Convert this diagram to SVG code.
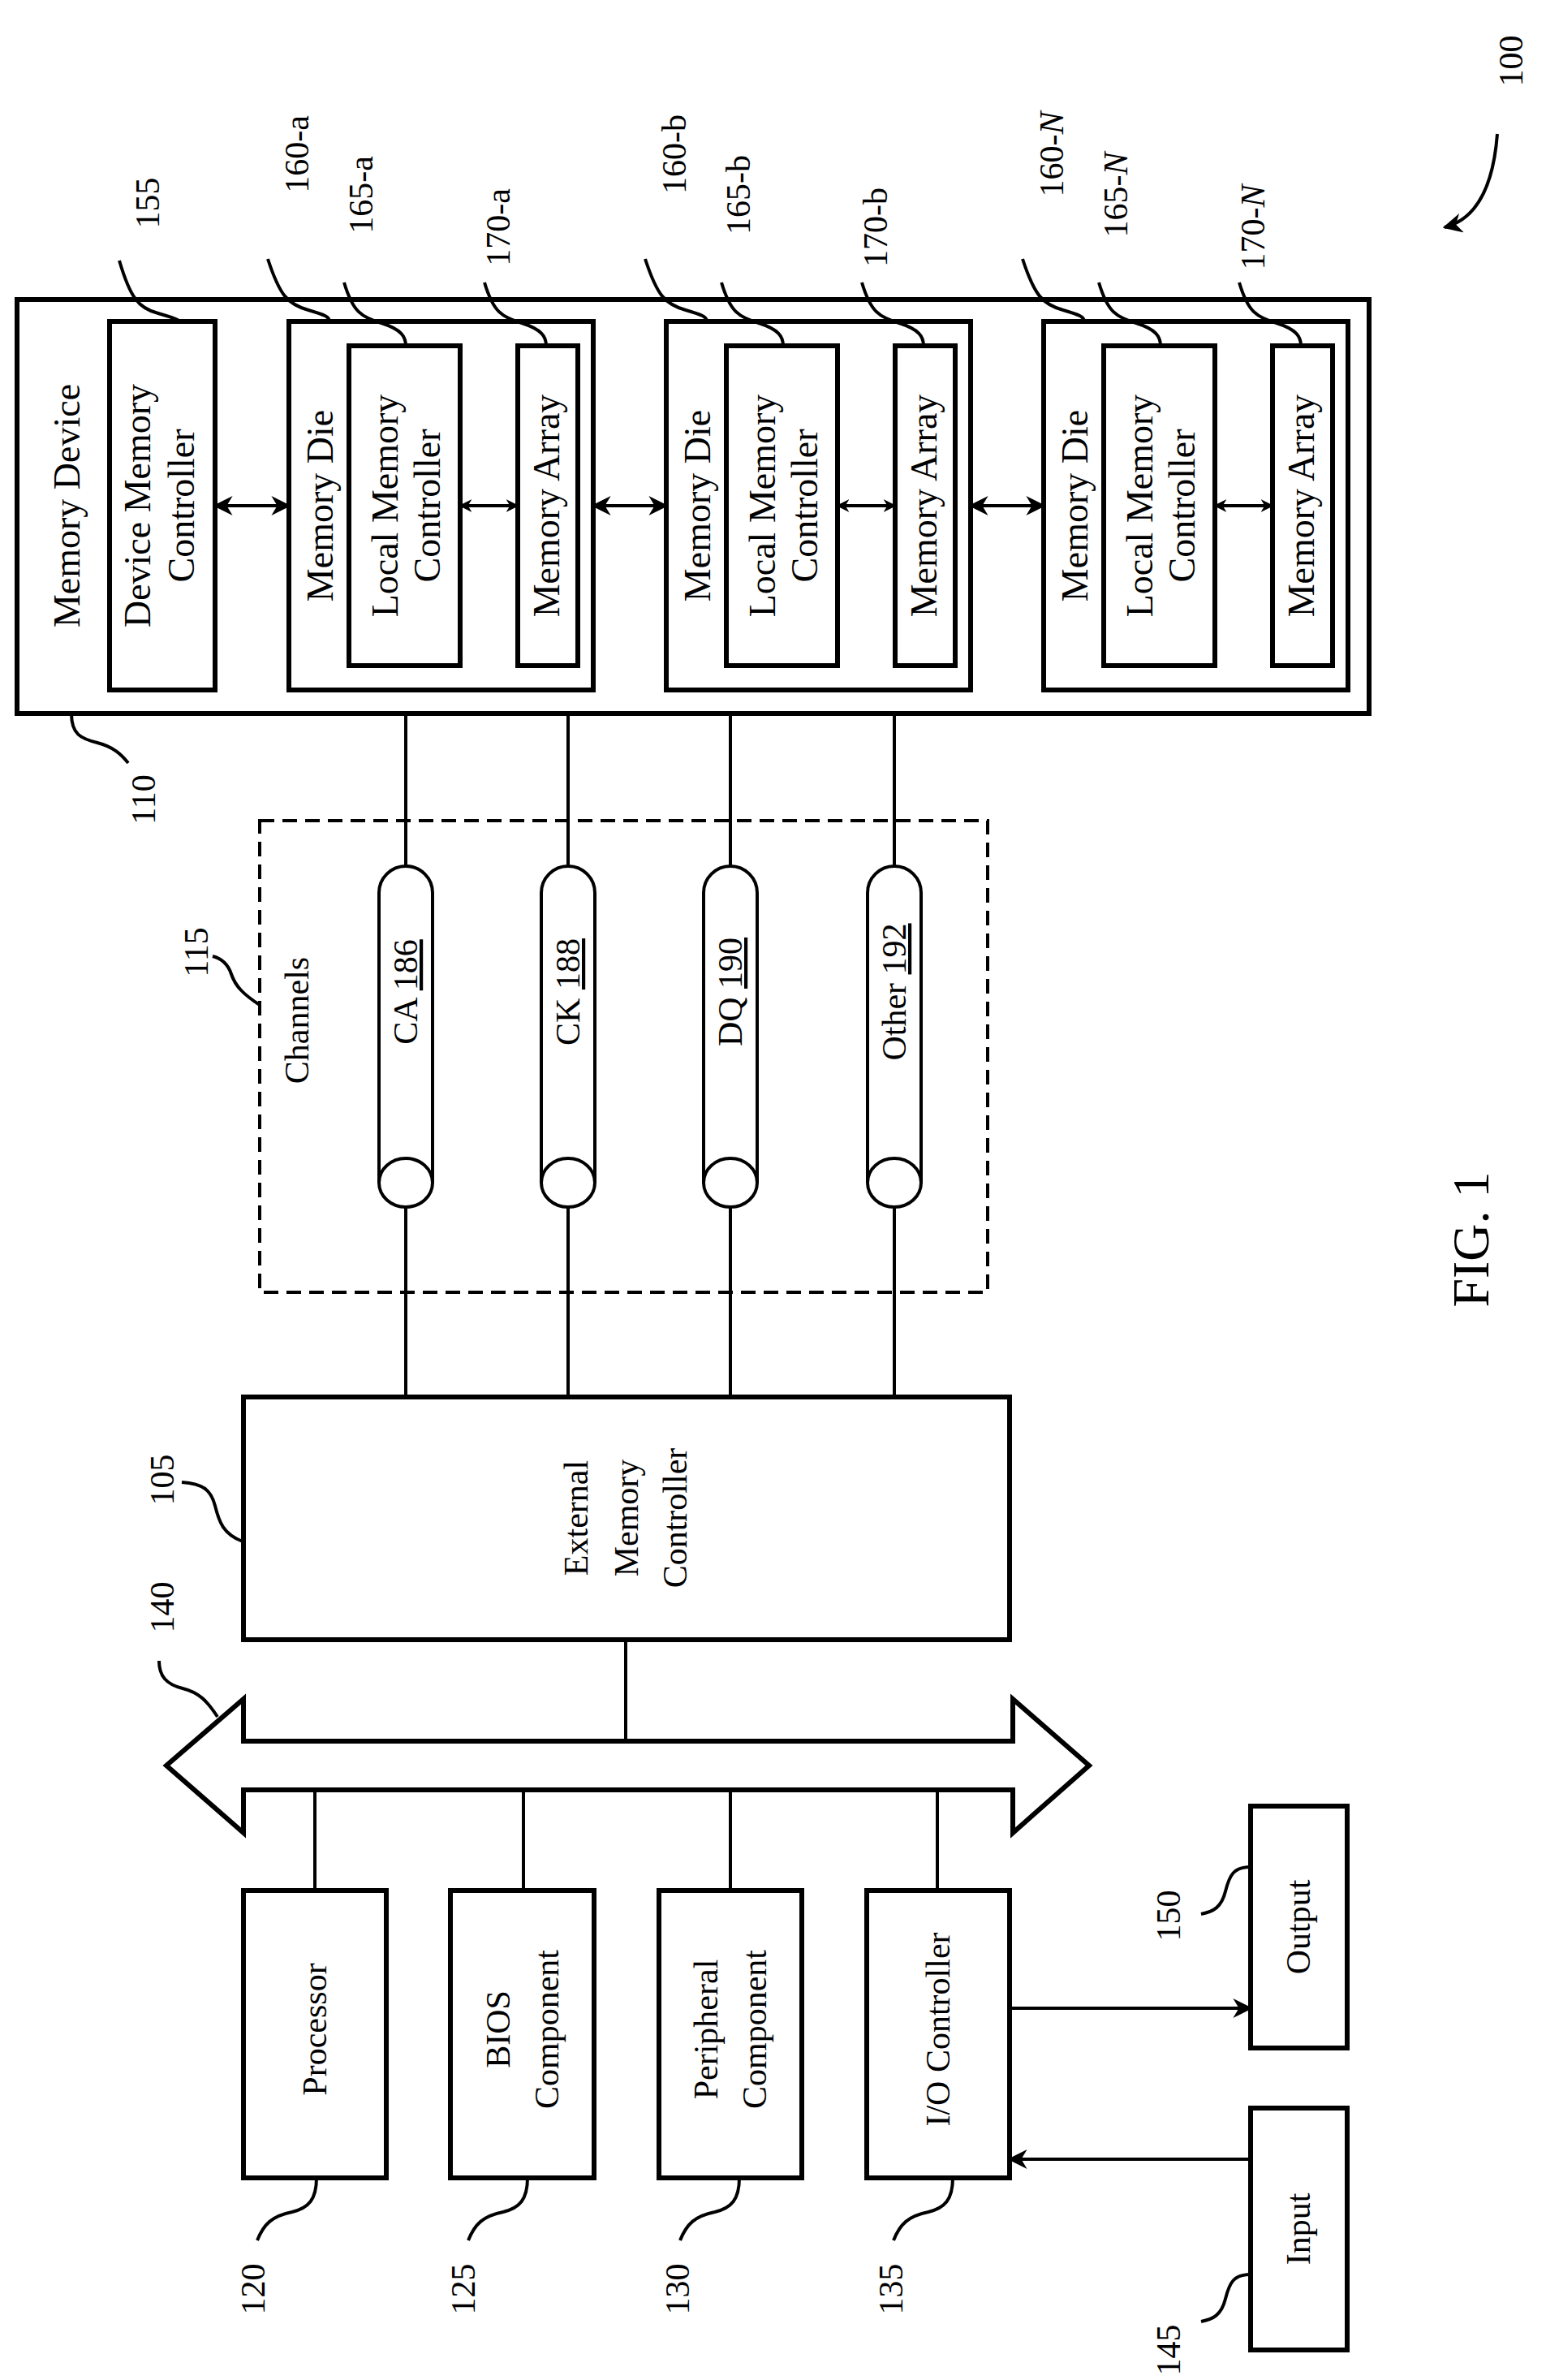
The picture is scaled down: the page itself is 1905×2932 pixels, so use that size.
<svg xmlns="http://www.w3.org/2000/svg" width="1905" height="2932" viewBox="0 0 1905 2932">
<style>
.b{fill:none;stroke:#000;stroke-width:6}
.l{fill:none;stroke:#000;stroke-width:4}
.t{font-family:"Liberation Serif",serif;font-size:46px;text-anchor:middle;fill:#000}
.s{font-family:"Liberation Serif",serif;font-size:42px;text-anchor:middle;fill:#000}
</style>
<defs>
<marker id="a" viewBox="0 0 10 10" refX="9" refY="5" markerWidth="6" markerHeight="6" orient="auto-start-reverse"><path d="M0,0 L10,5 L0,10 L3,5 Z" fill="#000"/></marker>
<marker id="a2" viewBox="0 0 10 10" refX="9" refY="5" markerWidth="4" markerHeight="4" orient="auto-start-reverse"><path d="M0,0 L10,5 L0,10 L3,5 Z" fill="#000"/></marker>
</defs>
<rect width="1905" height="2932" fill="#fff"/>
<g id="n110"><rect class="b" x="21" y="369" width="1666" height="510"/>
<text class="t" transform="translate(82,623) rotate(-90)" y="16">Memory Device</text></g>
<g id="n155"><rect class="b" x="135" y="396" width="130" height="454"/>
<text class="t" transform="translate(197,623) rotate(-90)"><tspan x="0" y="-12">Device Memory</tspan><tspan x="0" y="42">Controller</tspan></text></g>
<g id="n160a"><rect class="b" x="356" y="396" width="375" height="454"/><text class="t" transform="translate(394,623) rotate(-90)" y="16">Memory Die</text>
<rect class="b" x="430" y="426" width="137" height="394"/><text class="t" transform="translate(500,623) rotate(-90)"><tspan x="0" y="-10">Local Memory</tspan><tspan x="0" y="42">Controller</tspan></text>
<rect class="b" x="638" y="426" width="74" height="394"/><text class="t" transform="translate(673,623) rotate(-90)" y="16">Memory Array</text></g>
<g id="n160b"><rect class="b" x="821" y="396" width="375" height="454"/><text class="t" transform="translate(859,623) rotate(-90)" y="16">Memory Die</text>
<rect class="b" x="895" y="426" width="137" height="394"/><text class="t" transform="translate(965,623) rotate(-90)"><tspan x="0" y="-10">Local Memory</tspan><tspan x="0" y="42">Controller</tspan></text>
<rect class="b" x="1103" y="426" width="74" height="394"/><text class="t" transform="translate(1138,623) rotate(-90)" y="16">Memory Array</text></g>
<g id="n160N"><rect class="b" x="1286" y="396" width="375" height="454"/><text class="t" transform="translate(1324,623) rotate(-90)" y="16">Memory Die</text>
<rect class="b" x="1360" y="426" width="137" height="394"/><text class="t" transform="translate(1430,623) rotate(-90)"><tspan x="0" y="-10">Local Memory</tspan><tspan x="0" y="42">Controller</tspan></text>
<rect class="b" x="1568" y="426" width="74" height="394"/><text class="t" transform="translate(1603,623) rotate(-90)" y="16">Memory Array</text></g>
<g id="n115"><rect x="320" y="1011" width="897" height="581" fill="none" stroke="#000" stroke-width="4" stroke-dasharray="18,10"/>
<text class="s" transform="translate(366,1257) rotate(-90)" y="14">Channels</text>
<path class="l" d="M467,1457 V1100 A33,33 0 0 1 533,1100 V1457"/><ellipse class="l" cx="500" cy="1457" rx="33" ry="30"/>
<path class="l" d="M667,1457 V1100 A33,33 0 0 1 733,1100 V1457"/><ellipse class="l" cx="700" cy="1457" rx="33" ry="30"/>
<path class="l" d="M867,1457 V1100 A33,33 0 0 1 933,1100 V1457"/><ellipse class="l" cx="900" cy="1457" rx="33" ry="30"/>
<path class="l" d="M1069,1457 V1100 A33,33 0 0 1 1135,1100 V1457"/><ellipse class="l" cx="1102" cy="1457" rx="33" ry="30"/>
<text class="s" transform="translate(500,1222) rotate(-90)" y="14">CA <tspan text-decoration="underline">186</tspan></text>
<text class="s" transform="translate(700,1222) rotate(-90)" y="14">CK <tspan text-decoration="underline">188</tspan></text>
<text class="s" transform="translate(900,1222) rotate(-90)" y="14">DQ <tspan text-decoration="underline">190</tspan></text>
<text class="s" transform="translate(1102,1222) rotate(-90)" y="14">Other <tspan text-decoration="underline">192</tspan></text></g>
<g id="n105"><rect class="b" x="300" y="1721" width="944" height="299"/>
<text class="s" transform="translate(772,1870) rotate(-90)"><tspan x="0" y="-48">External</tspan><tspan x="0" y="14">Memory</tspan><tspan x="0" y="74">Controller</tspan></text></g>
<g id="n140"><path class="b" d="M300,2145 H1248 V2093 L1342,2175 L1248,2258 V2205 H300 V2258 L205,2175 L300,2093 Z"/></g>
<g id="n120"><rect class="b" x="300" y="2329" width="176" height="354"/><text class="s" transform="translate(388,2500) rotate(-90)" y="14">Processor</text></g>
<g id="n125"><rect class="b" x="555" y="2329" width="177" height="354"/><text class="s" transform="translate(644,2500) rotate(-90)"><tspan x="0" y="-16">BIOS</tspan><tspan x="0" y="44">Component</tspan></text></g>
<g id="n130"><rect class="b" x="812" y="2329" width="176" height="354"/><text class="s" transform="translate(900,2500) rotate(-90)"><tspan x="0" y="-16">Peripheral</tspan><tspan x="0" y="44">Component</tspan></text></g>
<g id="n135"><rect class="b" x="1068" y="2329" width="176" height="354"/><text class="s" transform="translate(1156,2500) rotate(-90)" y="14">I/O Controller</text></g>
<g id="n150"><rect class="b" x="1541" y="2225" width="119" height="298"/><text class="s" transform="translate(1600,2374) rotate(-90)" y="14">Output</text></g>
<g id="n145"><rect class="b" x="1541" y="2597" width="119" height="298"/><text class="s" transform="translate(1600,2746) rotate(-90)" y="14">Input</text></g>
<g id="connectors">
<line class="l" x1="265" y1="623" x2="356" y2="623" marker-start="url(#a)" marker-end="url(#a)"/>
<line class="l" x1="567" y1="623" x2="638" y2="623" marker-start="url(#a2)" marker-end="url(#a2)"/>
<line class="l" x1="731" y1="623" x2="821" y2="623" marker-start="url(#a)" marker-end="url(#a)"/>
<line class="l" x1="1032" y1="623" x2="1103" y2="623" marker-start="url(#a2)" marker-end="url(#a2)"/>
<line class="l" x1="1196" y1="623" x2="1286" y2="623" marker-start="url(#a)" marker-end="url(#a)"/>
<line class="l" x1="1497" y1="623" x2="1568" y2="623" marker-start="url(#a2)" marker-end="url(#a2)"/>
<path class="l" d="M500,879 V1067 M700,879 V1067 M900,879 V1067 M1102,879 V1067 M500,1487 V1721 M700,1487 V1721 M900,1487 V1721 M1102,1487 V1721"/>
<path class="l" d="M771,2020 V2145 M388,2205 V2329 M645,2205 V2329 M900,2205 V2329 M1155,2205 V2329"/>
<line class="l" x1="1244" y1="2474" x2="1541" y2="2474" marker-end="url(#a)"/>
<line class="l" x1="1541" y1="2660" x2="1244" y2="2660" marker-end="url(#a)"/>
</g>
<g id="labels" class="l">
<path d="M147,321 C160,365 170,380 195,386 C215,392 221,394 221,396"/>
<path d="M330,319 C345,365 355,375 380,382 C400,388 406,390 406,396"/>
<path d="M424,348 C435,385 445,390 470,398 C495,406 500,415 500,426"/>
<path d="M597,348 C608,385 618,390 643,398 C668,406 673,415 673,426"/>
<path d="M795,319 C810,365 820,375 845,382 C865,388 871,390 871,396"/>
<path d="M889,348 C900,385 910,390 935,398 C960,406 965,415 965,426"/>
<path d="M1062,348 C1073,385 1083,390 1108,398 C1133,406 1138,415 1138,426"/>
<path d="M1260,319 C1275,365 1285,375 1310,382 C1330,388 1336,390 1336,396"/>
<path d="M1354,348 C1365,385 1375,390 1400,398 C1425,406 1430,415 1430,426"/>
<path d="M1527,348 C1538,385 1548,390 1573,398 C1598,406 1603,415 1603,426"/>
<path d="M88,879 C88,905 100,910 120,915 C140,920 150,930 158,940"/>
<path d="M320,1238 C300,1225 290,1215 285,1200 C280,1185 270,1180 262,1178"/>
<path d="M299,1899 C275,1890 270,1875 265,1855 C260,1835 250,1828 224,1826"/>
<path d="M268,2115 C255,2095 245,2085 225,2080 C205,2075 196,2065 196,2046"/>
<path d="M390,2683 C390,2710 380,2720 360,2725 C335,2730 325,2740 317,2760"/>
<path d="M650,2683 C650,2710 640,2720 620,2725 C595,2730 585,2740 577,2760"/>
<path d="M911,2683 C911,2710 901,2720 881,2725 C856,2730 846,2740 838,2760"/>
<path d="M1174,2683 C1174,2710 1164,2720 1144,2725 C1119,2730 1109,2740 1101,2760"/>
<path d="M1541,2300 C1520,2300 1515,2310 1510,2330 C1505,2350 1495,2355 1480,2358"/>
<path d="M1541,2802 C1520,2802 1515,2812 1510,2832 C1505,2852 1495,2857 1480,2860"/>
<path d="M1845,165 C1840,230 1820,270 1780,280" marker-end="url(#a)"/>
</g>
<g id="numbers" class="s">
<text transform="translate(182,250) rotate(-90)" y="14">155</text>
<text transform="translate(366,190) rotate(-90)" y="14">160-a</text>
<text transform="translate(445,240) rotate(-90)" y="14">165-a</text>
<text transform="translate(614,280) rotate(-90)" y="14">170-a</text>
<text transform="translate(831,190) rotate(-90)" y="14">160-b</text>
<text transform="translate(910,240) rotate(-90)" y="14">165-b</text>
<text transform="translate(1079,280) rotate(-90)" y="14">170-b</text>
<text transform="translate(1296,190) rotate(-90)" y="14">160-<tspan font-style="italic">N</tspan></text>
<text transform="translate(1375,240) rotate(-90)" y="14">165-<tspan font-style="italic">N</tspan></text>
<text transform="translate(1544,280) rotate(-90)" y="14">170-<tspan font-style="italic">N</tspan></text>
<text transform="translate(177,985) rotate(-90)" y="14">110</text>
<text transform="translate(242,1173) rotate(-90)" y="14">115</text>
<text transform="translate(200,1823) rotate(-90)" y="14">105</text>
<text transform="translate(200,1980) rotate(-90)" y="14">140</text>
<text transform="translate(312,2820) rotate(-90)" y="14">120</text>
<text transform="translate(571,2820) rotate(-90)" y="14">125</text>
<text transform="translate(835,2820) rotate(-90)" y="14">130</text>
<text transform="translate(1098,2820) rotate(-90)" y="14">135</text>
<text transform="translate(1440,2360) rotate(-90)" y="14">150</text>
<text transform="translate(1440,2895) rotate(-90)" y="14">145</text>
<text transform="translate(1862,75) rotate(-90)" y="14">100</text>
<text transform="translate(1812,1527) rotate(-90)" y="22" font-size="64">FIG. 1</text>
</g>
</svg>
